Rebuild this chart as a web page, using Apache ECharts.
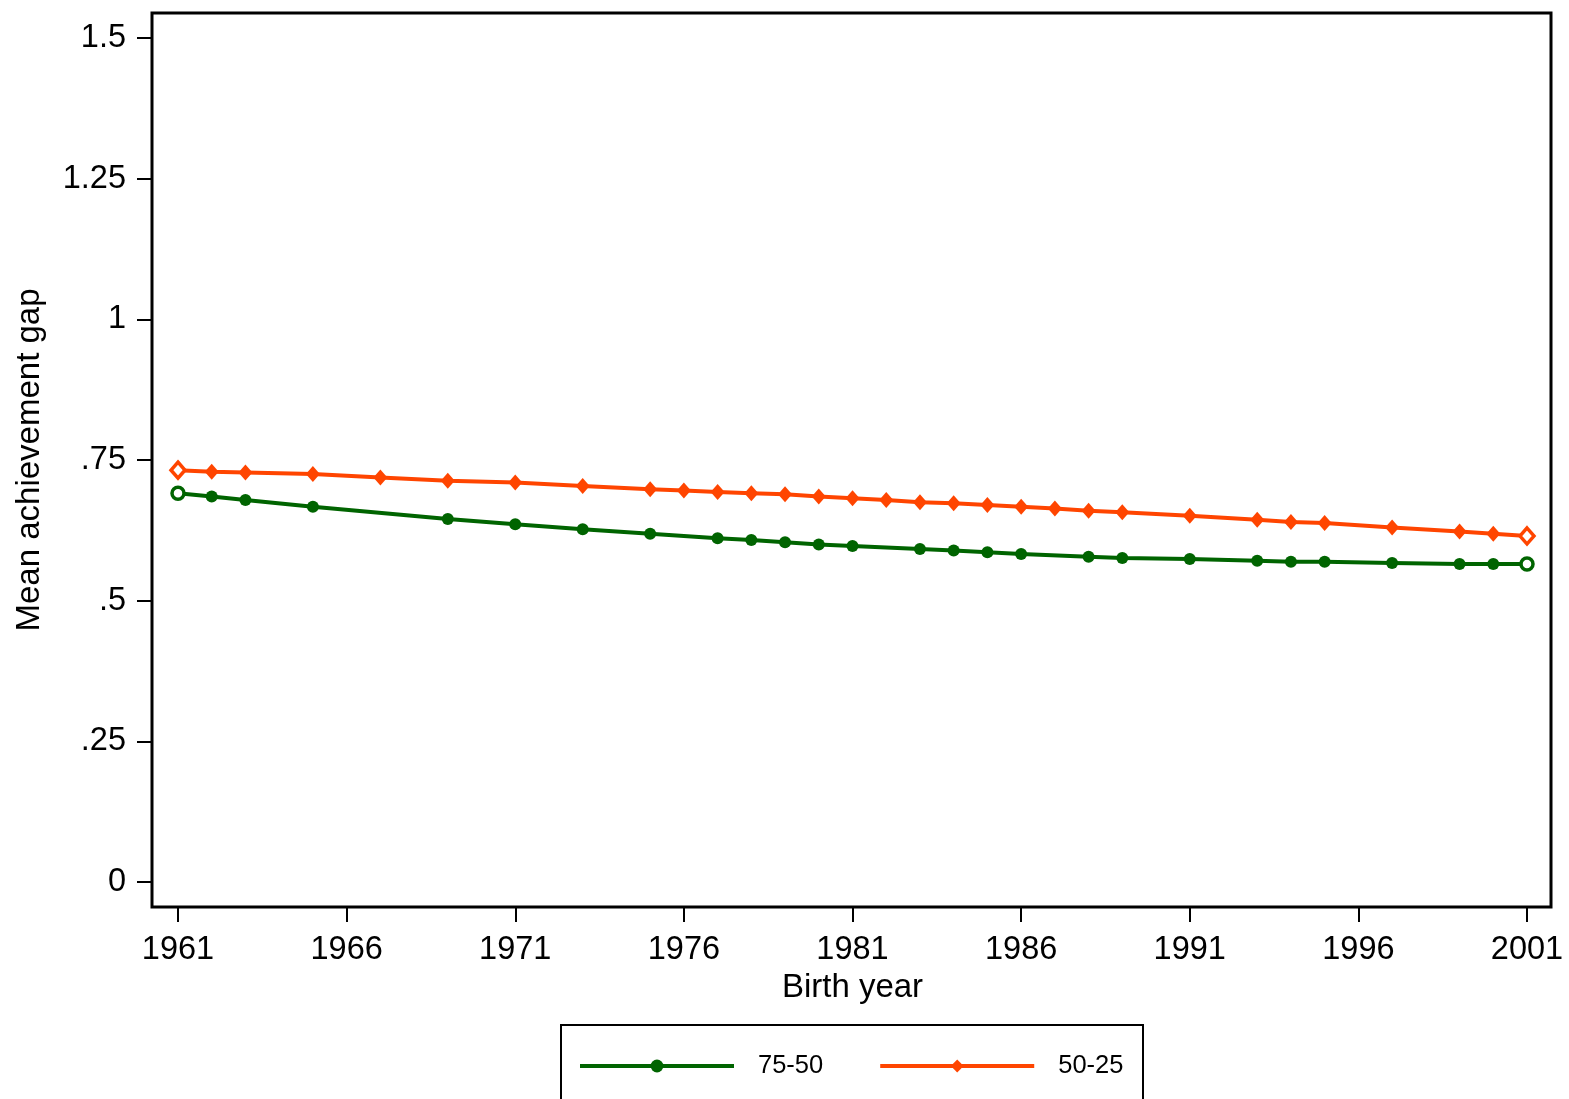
<!DOCTYPE html>
<html>
<head>
<meta charset="utf-8">
<style>html,body{margin:0;padding:0;background:#fff}#c{width:1569px;height:1099px}</style>
<script src="https://cdn.jsdelivr.net/npm/echarts@6/dist/echarts.min.js"></script>
</head>
<body>
<div id="c"></div>
<script>
const yearsA = [1961,1962,1963,1965,1969,1971,1973,1975,1977,1978,1979,1980,1981,1983,1984,1985,1986,1988,1989,1991,1993,1994,1995,1997,1999,2000,2001];
const gap7550 = [0.691,0.685,0.679,0.667,0.645,0.636,0.627,0.619,0.611,0.608,0.604,0.600,0.597,0.592,0.589,0.586,0.583,0.578,0.576,0.574,0.571,0.569,0.569,0.567,0.565,0.565,0.565];
const yearsB = [1961,1962,1963,1965,1967,1969,1971,1973,1975,1976,1977,1978,1979,1980,1981,1982,1983,1984,1985,1986,1987,1988,1989,1991,1993,1994,1995,1997,1999,2000,2001];
const gap5025 = [0.732,0.729,0.728,0.725,0.719,0.713,0.710,0.704,0.698,0.696,0.693,0.691,0.689,0.685,0.682,0.679,0.675,0.673,0.670,0.667,0.664,0.660,0.657,0.651,0.644,0.640,0.638,0.630,0.623,0.619,0.615];
const seriesNames = ['75-50','50-25'];
const xTitle = 'Birth year';
const yTitle = 'Mean achievement gap';

const GREEN = '#006400', ORANGE = '#ff4500';
const FONT = 'Liberation Sans, Arial, sans-serif';

function build(years, vals, color) {
  return years.map((y, i) => {
    const d = { value: [y, vals[i]] };
    if (i === 0 || i === years.length - 1) {
      d.itemStyle = { color: '#fff', borderColor: color, borderWidth: 3.5 };
    }
    return d;
  });
}

const chart = echarts.init(document.getElementById('c'));
chart.setOption({
  animation: false,
  backgroundColor: '#fff',
  textStyle: { fontFamily: FONT },
  grid: { left: 178, right: 42, top: 38, bottom: 217 },
  xAxis: {
    type: 'value', min: 1961, max: 2001, interval: 5, offset: 25,
    axisLine: { show: false, onZero: false },
    axisTick: { show: true, length: 15, lineStyle: { color: '#000', width: 2 } },
    axisLabel: { fontSize: 32.5, color: '#000', margin: 27, fontFamily: FONT,
      formatter: v => String(v) },
    splitLine: { show: false },
    name: xTitle, nameLocation: 'middle', nameGap: 62,
    nameTextStyle: { fontSize: 33, color: '#000', fontFamily: FONT }
  },
  yAxis: {
    type: 'value', min: 0, max: 1.5, interval: 0.25, offset: 26,
    axisLine: { show: false, onZero: false },
    axisTick: { show: true, length: 15, lineStyle: { color: '#000', width: 2 } },
    axisLabel: { fontSize: 32.5, color: '#000', margin: 26, fontFamily: FONT,
      formatter: v => String(v).replace(/^0\./, '.') },
    splitLine: { show: false },
    name: yTitle, nameLocation: 'middle', nameGap: 106, nameRotate: 90,
    nameTextStyle: { fontSize: 33, color: '#000', fontFamily: FONT }
  },
  legend: {
    left: 578, top: 1053, padding: 0, itemWidth: 154, itemHeight: 16, itemGap: 55,
    lineStyle: { width: 4 },
    textStyle: { fontSize: 25.5, color: '#000', fontFamily: FONT, padding: [0,0,0,19] },
    data: seriesNames
  },
  graphic: [
    { type: 'rect', shape: { x: 152, y: 13, width: 1399, height: 894 },
      style: { fill: 'none', stroke: '#000', lineWidth: 3 }, silent: true, z: 10 },
    { type: 'rect', shape: { x: 561, y: 1025, width: 582, height: 100 },
      style: { fill: 'none', stroke: '#000', lineWidth: 2 }, silent: true, z: 10 }
  ],
  series: [
    { name: seriesNames[0], type: 'line', data: build(yearsA, gap7550, GREEN),
      symbol: 'circle', symbolSize: 12, showAllSymbol: true,
      lineStyle: { color: GREEN, width: 4 }, itemStyle: { color: GREEN } },
    { name: seriesNames[1], type: 'line', data: build(yearsB, gap5025, ORANGE),
      symbol: 'diamond', symbolSize: [14, 16], showAllSymbol: true,
      lineStyle: { color: ORANGE, width: 4 }, itemStyle: { color: ORANGE } }
  ]
});
</script>
</body>
</html>
